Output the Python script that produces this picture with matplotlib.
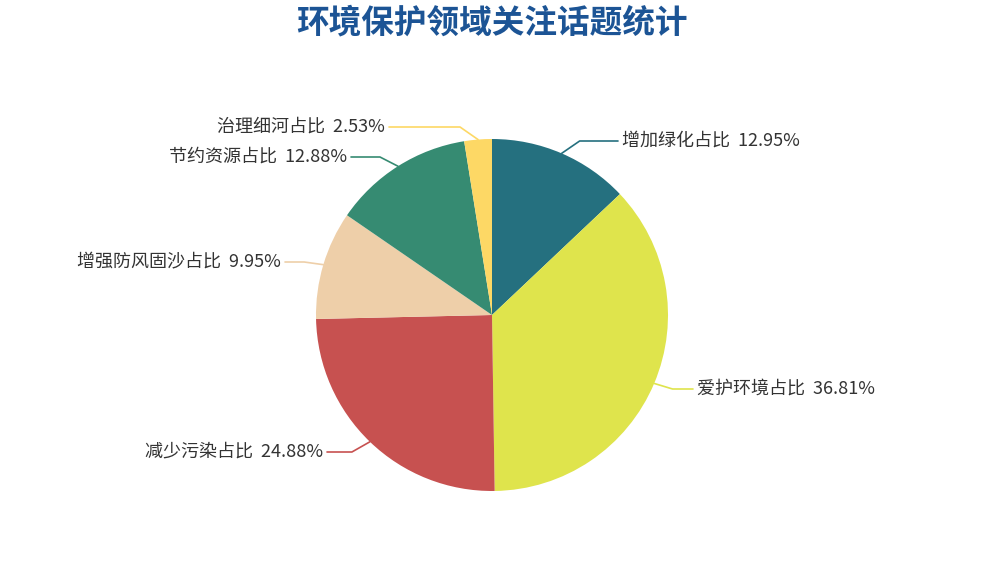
import numpy as np
import matplotlib
matplotlib.use("Agg")
import matplotlib.pyplot as plt

plt.rcParams['font.family'] = ['Noto Sans CJK SC', 'DejaVu Sans']

# ---------- data ----------
names = ["增加绿化", "爱护环境", "减少污染", "增强防风固沙", "节约资源", "治理细河"]
shares = [12.95, 36.81, 24.88, 9.95, 12.88, 2.53]
colors = ["#25707f", "#dfe44c", "#c75150", "#eecfa9", "#368b72", "#fdd865"]

# label layout (pixels from top-left): text row and the text edge near the pie
label_y = [141, 389, 452, 262, 157, 127]
label_x = [622, 697, 323, 281, 347, 385]

W, H = 992, 563
CX, CY, R = 492, 315, 176

fig = plt.figure(figsize=(W / 100, H / 100), dpi=100)
ax = fig.add_axes([0, 0, 1, 1])

ax.pie(shares, colors=colors, startangle=90, counterclock=False,
       center=(CX, H - CY), radius=R, wedgeprops=dict(linewidth=0))
ax.set_xlim(0, W)
ax.set_ylim(0, H)
ax.set_aspect("equal")
ax.axis("off")

total = sum(shares)
start = 90.0
for name, val, col, ly, lx in zip(names, shares, colors, label_y, label_x):
    mid = np.deg2rad(start - val / total * 360 / 2)
    start -= val / total * 360
    cx, cy = np.cos(mid), np.sin(mid)
    side = 1 if cx >= 0 else -1
    p0x, p0y = CX + R * cx, H - CY + R * cy
    p1x = p0x + side * max(20 * abs(cx), 18)
    ly_d = H - ly
    p2x = lx - side * 4
    ax.plot([p0x, p1x, p2x], [p0y, ly_d, ly_d], color=col, lw=1.2,
            solid_capstyle="round", solid_joinstyle="round")
    ax.text(lx, ly_d, f"{name}占比  {val:.2f}%",
            ha="left" if side > 0 else "right", va="center",
            fontsize=13, color="#333333")

fig.text(0.496, 1 - 23 / H, "环境保护领域关注话题统计", ha="center", va="center",
         fontsize=23.5, fontweight="bold", color="#1c5495")

fig.savefig("out.png", dpi=100)
